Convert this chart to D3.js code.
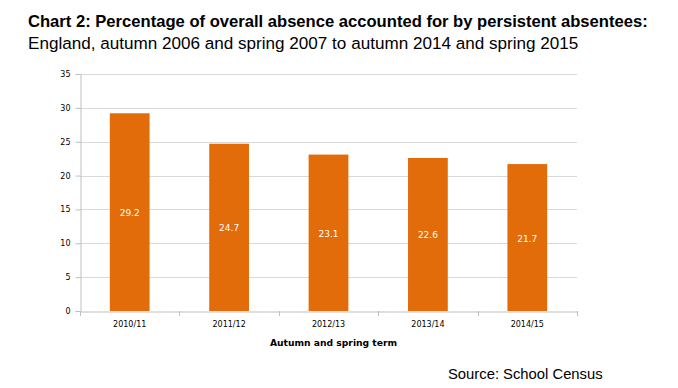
<!DOCTYPE html>
<html>
<head>
<meta charset="utf-8">
<script src="https://cdn.jsdelivr.net/npm/d3@7.9.0/dist/d3.min.js"></script>
<style>
  body { margin: 0; background: #fff; }
  svg { display: block; }
</style>
</head>
<body>
<svg width="678" height="388"></svg>
<script>
const terms = ['2010/11', '2011/12', '2012/13', '2013/14', '2014/15'];
const values = [29.2, 24.7, 23.1, 22.6, 21.7];
const yTicks = [0, 5, 10, 15, 20, 25, 30, 35];

const svg = d3.select('svg');
const plotLeft = 80, plotRight = 577, plotTop = 74, plotBottom = 311;

const x = d3.scaleBand().domain(terms).range([plotLeft, plotRight])
    .paddingInner(0.6).paddingOuter(0.3);
const y = d3.scaleLinear().domain([0, 35]).range([plotBottom, plotTop]);

// gridlines
svg.append('g').selectAll('line').data(yTicks.filter(d => d > 0)).join('line')
    .attr('x1', plotLeft).attr('x2', plotRight)
    .attr('y1', d => Math.round(y(d)) + 0.5).attr('y2', d => Math.round(y(d)) + 0.5)
    .attr('stroke', '#d9d9d9');

// bars
svg.append('g').selectAll('rect').data(values).join('rect')
    .attr('x', (d, i) => x(terms[i]))
    .attr('y', d => y(d))
    .attr('width', x.bandwidth())
    .attr('height', d => plotBottom - y(d))
    .attr('fill', '#e36c0a');

// bar labels
svg.append('g').selectAll('text').data(values).join('text')
    .attr('x', (d, i) => x(terms[i]) + x.bandwidth() / 2)
    .attr('y', d => (y(d) + plotBottom) / 2 + 4)
    .attr('text-anchor', 'middle')
    .attr('fill', '#fff')
    .style('font', '9px "DejaVu Sans", Verdana, sans-serif')
    .text(d => d.toFixed(1));

// y axis
const yAxis = svg.append('g').attr('transform', `translate(${plotLeft + 0.5},0)`)
    .call(d3.axisLeft(y).tickValues(yTicks).tickSize(5).tickPadding(5));
yAxis.select('.domain').attr('stroke', '#bfbfbf');
yAxis.selectAll('.tick line').attr('stroke', '#bfbfbf');
yAxis.selectAll('.tick text')
    .style('font', '8px "DejaVu Sans", Verdana, sans-serif').attr('fill', '#000');

// x axis
const xAxis = svg.append('g').attr('transform', `translate(0,${plotBottom + 0.5})`)
    .call(d3.axisBottom(x).tickSize(0).tickPadding(10).tickSizeOuter(0));
xAxis.select('.domain').attr('stroke', '#bfbfbf');
xAxis.selectAll('.tick text')
    .style('font', '8px "DejaVu Sans", Verdana, sans-serif').attr('fill', '#000');
// category boundary ticks
const bounds = d3.range(terms.length + 1).map(i => plotLeft + i * x.step());
svg.append('g').selectAll('line').data(bounds).join('line')
    .attr('x1', d => Math.round(d) + 0.5).attr('x2', d => Math.round(d) + 0.5)
    .attr('y1', plotBottom).attr('y2', plotBottom + 5)
    .attr('stroke', '#bfbfbf');

// x title
svg.append('text')
    .attr('x', (plotLeft + plotRight) / 2 + 5).attr('y', 346)
    .attr('text-anchor', 'middle')
    .style('font', 'bold 9.2px "DejaVu Sans", Verdana, sans-serif')
    .text('Autumn and spring term');

// title
svg.append('text').attr('x', 28).attr('y', 27)
    .style('font', 'bold 16.6px "Liberation Sans", Arial, sans-serif')
    .text('Chart 2: Percentage of overall absence accounted for by persistent absentees:');
svg.append('text').attr('x', 28).attr('y', 49)
    .style('font', '17.1px "Liberation Sans", Arial, sans-serif')
    .text('England, autumn 2006 and spring 2007 to autumn 2014 and spring 2015');

svg.append('text').attr('x', 448).attr('y', 379)
    .style('font', '14.8px "Liberation Sans", Arial, sans-serif')
    .text('Source: School Census');
</script>
</body>
</html>
